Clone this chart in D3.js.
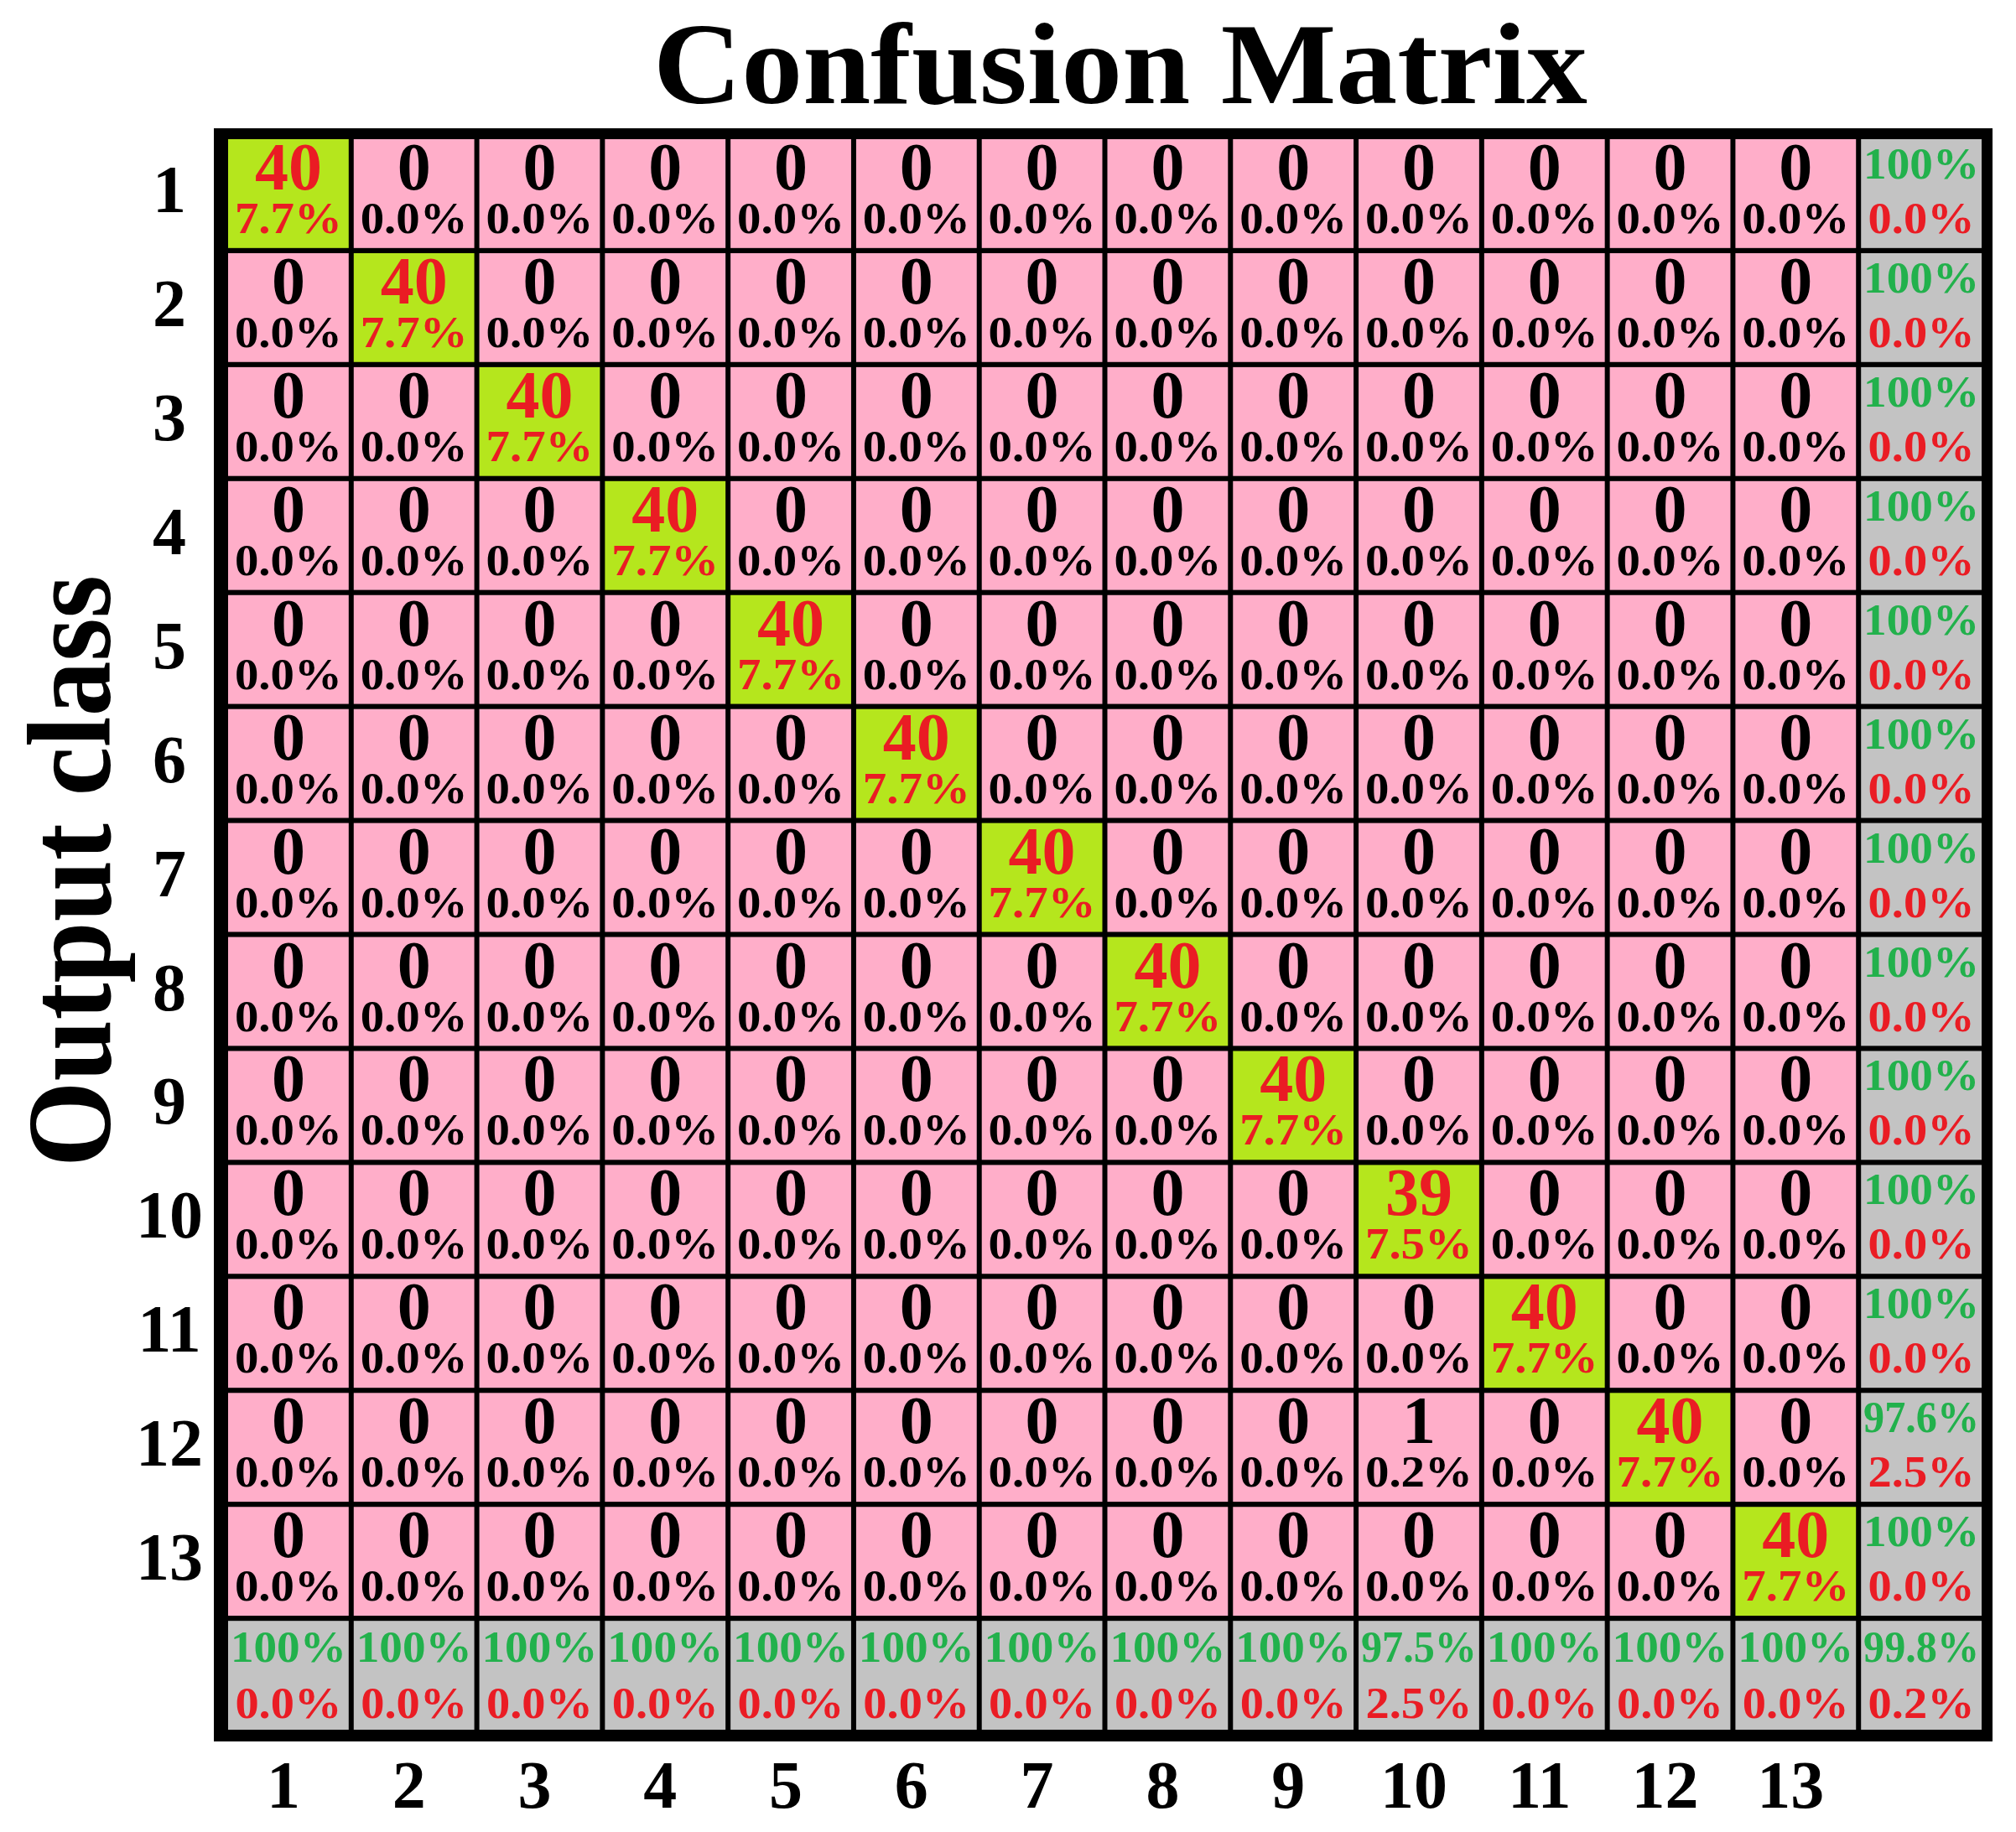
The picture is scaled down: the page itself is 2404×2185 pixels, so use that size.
<!DOCTYPE html>
<html><head><meta charset="utf-8">
<script src="https://cdn.jsdelivr.net/npm/d3@7"></script>
<style>html,body{margin:0;padding:0;background:#fff;overflow:hidden}</style>
</head><body>
<script>
// ---------- data ----------
const classes = ["1","2","3","4","5","6","7","8","9","10","11","12","13"];
// rows = output class, columns = target class
const counts = [
  [40,0,0,0,0,0,0,0,0,0,0,0,0],
  [0,40,0,0,0,0,0,0,0,0,0,0,0],
  [0,0,40,0,0,0,0,0,0,0,0,0,0],
  [0,0,0,40,0,0,0,0,0,0,0,0,0],
  [0,0,0,0,40,0,0,0,0,0,0,0,0],
  [0,0,0,0,0,40,0,0,0,0,0,0,0],
  [0,0,0,0,0,0,40,0,0,0,0,0,0],
  [0,0,0,0,0,0,0,40,0,0,0,0,0],
  [0,0,0,0,0,0,0,0,40,0,0,0,0],
  [0,0,0,0,0,0,0,0,0,39,0,0,0],
  [0,0,0,0,0,0,0,0,0,0,40,0,0],
  [0,0,0,0,0,0,0,0,0,1,0,40,0],
  [0,0,0,0,0,0,0,0,0,0,0,0,40]
];
const rowGood = ["100%","100%","100%","100%","100%","100%","100%","100%","100%","100%","100%","97.6%","100%"];
const rowBad  = ["0.0%","0.0%","0.0%","0.0%","0.0%","0.0%","0.0%","0.0%","0.0%","0.0%","0.0%","2.5%","0.0%"];
const colGood = ["100%","100%","100%","100%","100%","100%","100%","100%","100%","97.5%","100%","100%","100%"];
const colBad  = ["0.0%","0.0%","0.0%","0.0%","0.0%","0.0%","0.0%","0.0%","0.0%","2.5%","0.0%","0.0%","0.0%"];
const totalGood = "99.8%";
const totalBad = "0.2%";
const titleText = "Confusion Matrix";
const yTitleText = "Output class";

// ---------- drawing ----------
const W = 2404, H = 2185;
const FONT = "'Liberation Serif','Times New Roman',Times,serif";
const C = {pink:"#FFAEC9", lime:"#B5E61D", gray:"#C3C3C3", red:"#EA1C24", green:"#22B14C", black:"#000"};
const svg = d3.select("body").append("svg").attr("width", W).attr("height", H)
  .style("font-family", FONT).style("font-weight", "bold");

const n = classes.length, idx = d3.range(n + 1);
const x = d3.scaleBand().domain(idx).range([272, 2363]).paddingInner(0.04).paddingOuter(0);
const y = d3.scaleBand().domain(idx).range([166, 2063]).paddingInner(0.045).paddingOuter(0);
const total = d3.sum(counts.flat());
const pct = d3.format(".1%");

// outer black frame (grid lines show through gaps)
svg.append("rect")
  .attr("x", x.range()[0] - 17).attr("y", y.range()[0] - 13)
  .attr("width", x.range()[1] - x.range()[0] + 30)
  .attr("height", y.range()[1] - y.range()[0] + 27)
  .attr("fill", C.black);

const cells = [];
idx.forEach(r => idx.forEach(c => cells.push({r, c})));

const g = svg.append("g").selectAll("g").data(cells).join("g")
  .attr("transform", d => `translate(${x(d.c)},${y(d.r)})`);

g.append("rect")
  .attr("width", x.bandwidth()).attr("height", y.bandwidth())
  .attr("fill", d => (d.r === n || d.c === n) ? C.gray : (d.r === d.c ? C.lime : C.pink));

const cx = x.bandwidth() / 2;

// inner cells
const inner = g.filter(d => d.r < n && d.c < n);
inner.append("text")
  .attr("x", cx).attr("y", 60).attr("text-anchor", "middle")
  .attr("font-size", 80)
  .attr("fill", d => d.r === d.c ? C.red : C.black)
  .text(d => counts[d.r][d.c]);
inner.append("text")
  .attr("x", cx).attr("y", 112).attr("text-anchor", "middle")
  .attr("font-size", 52).attr("textLength", 128).attr("lengthAdjust", "spacingAndGlyphs")
  .attr("fill", d => d.r === d.c ? C.red : C.black)
  .text(d => pct(counts[d.r][d.c] / total));

// summary cells
const summ = g.filter(d => d.r === n || d.c === n);
function goodTxt(d){ return d.r === n && d.c === n ? totalGood : (d.c === n ? rowGood[d.r] : colGood[d.c]); }
function badTxt(d){ return d.r === n && d.c === n ? totalBad : (d.c === n ? rowBad[d.r] : colBad[d.c]); }
summ.append("text")
  .attr("x", cx).attr("y", d => d.r === n ? 49 : 47).attr("text-anchor", "middle")
  .attr("font-size", 52).attr("textLength", 138).attr("lengthAdjust", "spacingAndGlyphs")
  .attr("fill", C.green).text(goodTxt);
summ.append("text")
  .attr("x", cx).attr("y", d => d.r === n ? 116 : 112).attr("text-anchor", "middle")
  .attr("font-size", 52).attr("textLength", 127).attr("lengthAdjust", "spacingAndGlyphs")
  .attr("fill", C.red).text(badTxt);

// row labels
svg.append("g").selectAll("text").data(classes).join("text")
  .attr("x", 202).attr("y", (d, i) => y(i) + 87).attr("text-anchor", "middle")
  .attr("font-size", 80).attr("fill", C.black).text(d => d);

// column labels
svg.append("g").selectAll("text").data(classes).join("text")
  .attr("x", (d, i) => x(i) + cx - 6).attr("y", 2156).attr("text-anchor", "middle")
  .attr("font-size", 80).attr("fill", C.black).text(d => d);

// title
svg.append("text").attr("x", 779).attr("y", 123)
  .attr("font-size", 138).attr("textLength", 1114).attr("lengthAdjust", "spacingAndGlyphs")
  .attr("fill", C.black).text(titleText);

// y axis title
svg.append("text").attr("transform", "translate(131,1039) rotate(-90)")
  .attr("text-anchor", "middle")
  .attr("font-size", 142).attr("textLength", 706).attr("lengthAdjust", "spacingAndGlyphs")
  .attr("fill", C.black).text(yTitleText);
</script>
</body></html>
